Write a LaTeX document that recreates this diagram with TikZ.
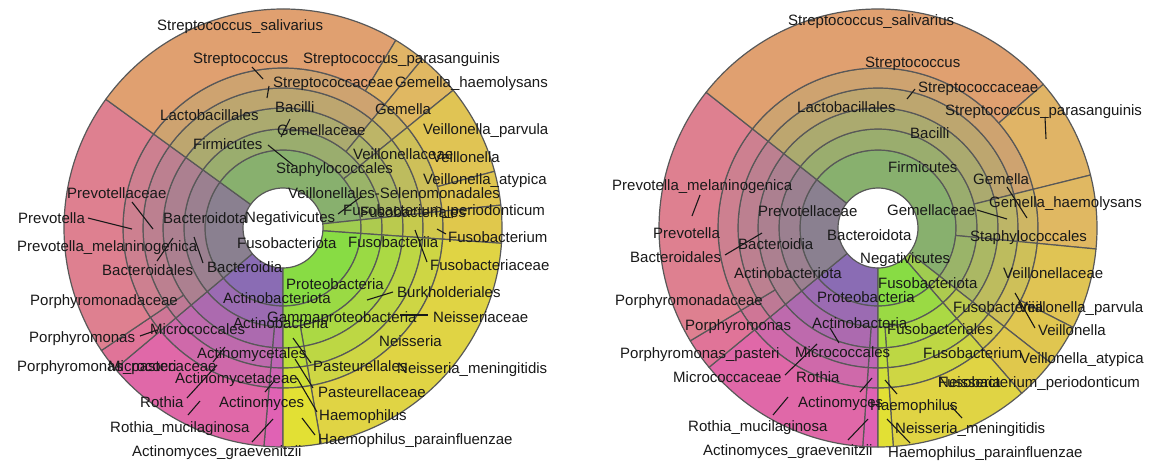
\documentclass[tikz,border=0pt]{standalone}
\usepackage{fontspec}
\setmainfont{Liberation Sans}
\usepackage{tikz}
\usetikzlibrary{calc}

\definecolor{segline}{HTML}{585858}
\definecolor{pAct}{HTML}{8A6CB4}
\definecolor{pBac}{HTML}{8A8090}
\definecolor{pFir}{HTML}{88B06E}
\definecolor{pFus}{HTML}{A0CC50}
\definecolor{pPro}{HTML}{88DC44}
\definecolor{lAgr}{HTML}{E062B4}
\definecolor{lRmu}{HTML}{E068A8}
\definecolor{lPpa}{HTML}{E07498}
\definecolor{lPme}{HTML}{DE8090}
\definecolor{lSsa}{HTML}{E0A070}
\definecolor{lSpa}{HTML}{E0B466}
\definecolor{lGha}{HTML}{E0B862}
\definecolor{lVpa}{HTML}{E0C454}
\definecolor{lVat}{HTML}{E0C650}
\definecolor{lFpe}{HTML}{E0C84C}
\definecolor{lNme}{HTML}{E0D444}
\definecolor{lHpa}{HTML}{E2E034}

\def\angL{{270,265,220,214,144,59,50.5,39,15,6,-4,-80,-90}}
\def\angR{{270,266,219.5,211,141.7,41,14,-5.5,-27,-38,-49,-86,-90}}
\def\sbsegs{1/0/2/lRmu/pAct,1/2/4/lPme/pBac,1/4/9/lSsa/pFir,1/9/10/lFpe/pFus,1/10/12/lNme/pPro,
2/0/2/lRmu/pAct,2/2/4/lPme/pBac,2/4/7/lSsa/pFir,2/7/9/lVpa/pFir,2/9/10/lFpe/pFus,2/10/12/lNme/pPro,
3/0/1/lAgr/pAct,3/1/2/lRmu/pAct,3/2/4/lPme/pBac,3/4/6/lSsa/pFir,3/6/7/lGha/pFir,3/7/9/lVpa/pFir,3/9/10/lFpe/pFus,3/10/11/lNme/pPro,3/11/12/lHpa/pPro,
4/0/1/lAgr/pAct,4/1/2/lRmu/pAct,4/2/3/lPpa/pBac,4/3/4/lPme/pBac,4/4/6/lSsa/pFir,4/6/7/lGha/pFir,4/7/9/lVpa/pFir,4/9/10/lFpe/pFus,4/10/11/lNme/pPro,4/11/12/lHpa/pPro,
5/0/1/lAgr/pAct,5/1/2/lRmu/pAct,5/2/3/lPpa/pBac,5/3/4/lPme/pBac,5/4/6/lSsa/pFir,5/6/7/lGha/pFir,5/7/9/lVpa/pFir,5/9/10/lFpe/pFus,5/10/11/lNme/pPro,5/11/12/lHpa/pPro,
6/0/1/lAgr/pAct,6/1/2/lRmu/pAct,6/2/3/lPpa/pBac,6/3/4/lPme/pBac,6/4/5/lSsa/pFir,6/5/6/lSpa/pFir,6/6/7/lGha/pFir,6/7/8/lVpa/pFir,6/8/9/lVat/pFir,6/9/10/lFpe/pFus,6/10/11/lNme/pPro,6/11/12/lHpa/pPro}

\newcommand{\sunburst}[2]{%
  \foreach \rk/\si/\sj/\lc/\pc in \sbsegs {
    \pgfmathsetmacro\ra{{40,78,99,120,140,160}[\rk-1]}
    \pgfmathsetmacro\rb{{78,99,120,140,160,219}[\rk-1]}
    \pgfmathsetmacro\aa{#2[\si]}
    \pgfmathsetmacro\bb{#2[\sj]}
    \pgfmathtruncatemacro\sbp{20*(\rk-1)}
    \filldraw[seg, fill=\lc!\sbp!\pc]
      ([shift={(\aa:\ra pt)}]#1) arc[start angle=\aa, end angle=\bb, radius=\ra pt]
      -- ([shift={(\bb:\rb pt)}]#1) arc[start angle=\bb, end angle=\aa, radius=\rb pt] -- cycle;
  }}

\begin{document}
\begin{tikzpicture}[x=1pt,y=-1pt,
    seg/.style={draw=segline,line width=1.2pt,line join=round},
    lead/.style={draw=black!90,line width=1.1pt},
    lbl/.style={anchor=base west,inner sep=0pt,text=black!90,font=\fontsize{15}{18}\selectfont}]

  \fill[white] (0,0) rectangle (1150,461);
  \useasboundingbox (0,0) rectangle (1150,461);

  \coordinate (cl) at (283,228);
  \coordinate (cr) at (878,228);
  \sunburst{cl}{\angL}
  \sunburst{cr}{\angR}

  \foreach \xa/\ya/\xb/\yb [count=\n] in {252/67/263/79, 269/86/267/98, 290/119/281/137,
      268/145/294/166, 338/214/362/196, 437/229/446/234, 415/230/427/262, 132/202/153/229,
      88/218/132/229, 157/261/173/238, 203/263/194/237, 367/300/393/292, 400/315/428/315,
      140/336/157/330, 213/362/225/347, 293/338/311/363, 265/392/275/380, 295/359/313/388,
      187/398/217/365, 297/378/317/412, 188/415/200/401, 302/418/315/435, 252/442/273/419,
      907/99/915/89, 1045/117/1046/139, 1007/187/1027/218, 977/210/1007/219, 700/195/692/216,
      725/255/762/233, 1015/293/1035/328, 830/328/839/343, 785/375/817/344, 860/392/872/378,
      885/380/897/394, 950/405/962/418, 773/415/788/397, 887/419/910/443, 848/440/868/419}{
    \coordinate (ldA\n) at (\xa,\ya);
    \coordinate (ldB\n) at (\xb,\yb);
    \draw[lead] (ldA\n) -- (ldB\n);
  }

  \node[lbl] (lSsal) at (157,30) {Streptococcus\_salivarius};
  \node[lbl] (lStr) at (193,63) {Streptococcus};
  \node[lbl] (lSpar) at (303,63) {Streptococcus\_parasanguinis};
  \node[lbl] (lStrc) at (273,87) {Streptococcaceae};
  \node[lbl] (lGhae) at (395,87) {Gemella\_haemolysans};
  \node[lbl] (lBac) at (275,112) {Bacilli};
  \node[lbl] (lLac) at (160,120) {Lactobacillales};
  \node[lbl] (lGem) at (375,114) {Gemella};
  \node[lbl] (lVpar) at (423,134) {Veillonella\_parvula};
  \node[lbl] (lGemc) at (277,135) {Gemellaceae};
  \node[lbl] (lFir) at (193,149) {Firmicutes};
  \node[lbl] (lVeic) at (353,159) {Veillonellaceae};
  \node[lbl] (lVei) at (432,162) {Veillonella};
  \node[lbl] (lSta) at (276,173) {Staphylococcales};
  \node[lbl] (lVaty) at (423,184) {Veillonella\_atypica};
  \node[lbl] (lVsel) at (288,198) {Veillonellales-Selenomonadales};
  \node[lbl] (lFper) at (343,215) {Fusobacterium\_periodonticum};
  \node[lbl] (lFusl) at (360,217) {Fusobacteriales};
  \node[lbl] (lNeg) at (245,222) {Negativicutes};
  \node[lbl] (lPrec) at (67,198) {Prevotellaceae};
  \node[lbl] (lPre) at (18,223) {Prevotella};
  \node[lbl] (lBacd) at (163,223) {Bacteroidota};
  \node[lbl] (lFusm) at (448,242) {Fusobacterium};
  \node[lbl] (lFusi) at (348,247) {Fusobacteriia};
  \node[lbl] (lFuso) at (237,248) {Fusobacteriota};
  \node[lbl] (lPmel) at (17,251) {Prevotella\_melaninogenica};
  \node[lbl] (lFusc) at (430,270) {Fusobacteriaceae};
  \node[lbl] (lBdia) at (207,272) {Bacteroidia};
  \node[lbl] (lBdal) at (102,275) {Bacteroidales};
  \node[lbl] (lPro) at (286,289) {Proteobacteria};
  \node[lbl] (lBur) at (397,297) {Burkholderiales};
  \node[lbl] (lAct) at (223,303) {Actinobacteriota};
  \node[lbl] (lPorc) at (30,305) {Porphyromonadaceae};
  \node[lbl] (lGam) at (267,322) {Gammaproteobacteria};
  \node[lbl] (lNeic) at (433,322) {Neisseriaceae};
  \node[lbl] (lActi) at (233,328) {Actinobacteria};
  \node[lbl] (lMicl) at (150,334) {Micrococcales};
  \node[lbl] (lPor) at (29,342) {Porphyromonas};
  \node[lbl] (lNei) at (379,346) {Neisseria};
  \node[lbl] (lAmyl) at (197,358) {Actinomycetales};
  \node[lbl] (lPpas) at (17,371) {Porphyromonas\_pasteri};
  \node[lbl] (lMicc) at (108,371) {Micrococcaceae};
  \node[lbl] (lPasl) at (313,371) {Pasteurellales};
  \node[lbl] (lNmen) at (397,373) {Neisseria\_meningitidis};
  \node[lbl] (lAmyc) at (175,383) {Actinomycetaceae};
  \node[lbl] (lPasc) at (318,397) {Pasteurellaceae};
  \node[lbl] (lRot) at (140,407) {Rothia};
  \node[lbl] (lAmy) at (219,407) {Actinomyces};
  \node[lbl] (lHae) at (319,420) {Haemophilus};
  \node[lbl] (lRmuc) at (110,432) {Rothia\_mucilaginosa};
  \node[lbl] (lHpar) at (318,444) {Haemophilus\_parainfluenzae};
  \node[lbl] (lAgra) at (132,456) {Actinomyces\_graevenitzii};

  \node[lbl] (rSsal) at (788,25) {Streptococcus\_salivarius};
  \node[lbl] (rStr) at (865,67) {Streptococcus};
  \node[lbl] (rStrc) at (918,92) {Streptococcaceae};
  \node[lbl] (rLac) at (797,112) {Lactobacillales};
  \node[lbl] (rSpar) at (945,115) {Streptococcus\_parasanguinis};
  \node[lbl] (rBac) at (910,138) {Bacilli};
  \node[lbl] (rFir) at (888,172) {Firmicutes};
  \node[lbl] (rGem) at (973,184) {Gemella};
  \node[lbl] (rPmel) at (612,190) {Prevotella\_melaninogenica};
  \node[lbl] (rGhae) at (989,207) {Gemella\_haemolysans};
  \node[lbl] (rGemc) at (887,215) {Gemellaceae};
  \node[lbl] (rPrec) at (758,216) {Prevotellaceae};
  \node[lbl] (rPre) at (653,238) {Prevotella};
  \node[lbl] (rBacd) at (827,240) {Bacteroidota};
  \node[lbl] (rSta) at (970,241) {Staphylococcales};
  \node[lbl] (rBdia) at (738,249) {Bacteroidia};
  \node[lbl] (rBdal) at (630,262) {Bacteroidales};
  \node[lbl] (rNeg) at (860,263) {Negativicutes};
  \node[lbl] (rAct) at (734,278) {Actinobacteriota};
  \node[lbl] (rVeic) at (1003,278) {Veillonellaceae};
  \node[lbl] (rFuso) at (878,288) {Fusobacteriota};
  \node[lbl] (rPro) at (817,302) {Proteobacteria};
  \node[lbl] (rPorc) at (615,305) {Porphyromonadaceae};
  \node[lbl] (rFusi) at (953,312) {Fusobacteriia};
  \node[lbl] (rVpar) at (1018,312) {Veillonella\_parvula};
  \node[lbl] (rActi) at (812,328) {Actinobacteria};
  \node[lbl] (rPor) at (685,330) {Porphyromonas};
  \node[lbl] (rFusl) at (887,334) {Fusobacteriales};
  \node[lbl] (rVei) at (1038,335) {Veillonella};
  \node[lbl] (rMicl) at (795,357) {Micrococcales};
  \node[lbl] (rPpas) at (620,358) {Porphyromonas\_pasteri};
  \node[lbl] (rFusm) at (923,358) {Fusobacterium};
  \node[lbl] (rVaty) at (1020,363) {Veillonella\_atypica};
  \node[lbl] (rMicc) at (673,382) {Micrococcaceae};
  \node[lbl] (rRot) at (796,382) {Rothia};
  \node[lbl] (rFper) at (938,387) {Fusobacterium\_periodonticum};
  \node[lbl] (rNei) at (938,387) {Neisseria};
  \node[lbl] (rAmy) at (798,407) {Actinomyces};
  \node[lbl] (rHae) at (870,410) {Haemophilus};
  \node[lbl] (rRmuc) at (688,431) {Rothia\_mucilaginosa};
  \node[lbl] (rNmen) at (895,433) {Neisseria\_meningitidis};
  \node[lbl] (rAgra) at (703,455) {Actinomyces\_graevenitzii};
  \node[lbl] (rHpar) at (888,457) {Haemophilus\_parainfluenzae};
\end{tikzpicture}
\end{document}
